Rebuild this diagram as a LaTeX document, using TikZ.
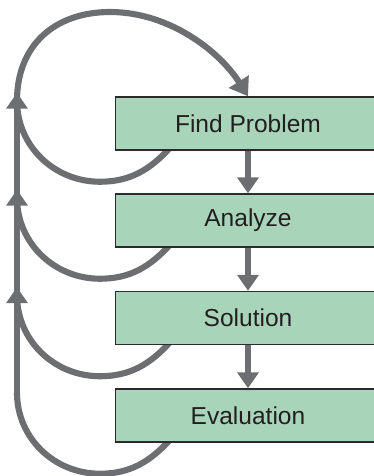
\documentclass[tikz,border=0pt]{standalone}
\usepackage{fontspec}
\setmainfont{Liberation Sans}
\usetikzlibrary{arrows.meta,calc}
\pgfdeclarelayer{bg}
\pgfsetlayers{bg,main}
\definecolor{loopgray}{HTML}{6D6E71}
\definecolor{boxgreen}{HTML}{A8D5BA}
\definecolor{boxline}{HTML}{2B2B2B}
\definecolor{txt}{HTML}{231F20}
\begin{document}
\begin{tikzpicture}[x=0.75pt,y=-0.75pt,
  stepbox/.style={draw=boxline, line width=1.1pt, fill=boxgreen,
    minimum width=198.75pt, minimum height=39.75pt, inner sep=0pt,
    text=txt, font=\fontsize{18.4}{21}\selectfont},
  headstyle/.style={-{Triangle[width=15.75pt,length=12pt]}},
  loopline/.style={draw=loopgray, line width=4.6pt},
  downline/.style={draw=loopgray, line width=5pt, headstyle}]
\useasboundingbox (0,0) rectangle (374,476);
\clip (0,0) rectangle (374,476);
\node[stepbox] (b1) at (248,123.5) {Find Problem};
\node[stepbox] (b2) at (248,220.5) {Analyze};
\node[stepbox] (b3) at (248,318) {Solution};
\node[stepbox] (b4) at (248,415.5) {Evaluation};
\draw[downline] (b1.south) -- (b2.north);
\draw[downline] (b2.south) -- (b3.north);
\draw[downline] (b3.south) -- (b4.north);
\begin{pgfonlayer}{bg}
\foreach \i in {1,...,4}{
  \coordinate (S\i) at ($(b\i.south)+(-78,-3)$);
  \coordinate (B\i) at ($(b\i.south)+(-148,31)$);
  \coordinate (L\i) at ($(b\i.south)+(-231,-50)$);
  \draw[loopline] (S\i) .. controls +(-20,22) and +(30,0) .. (B\i)
    .. controls +(-46,0) and +(0,45) .. (L\i);
}
\coordinate (A1) at ($(L1)+(0,-8)$);
\coordinate (A2) at ($(L2)+(0,-8)$);
\coordinate (A3) at ($(L3)+(0,-8)$);
\draw[loopline, headstyle] (L4) -- (A3);
\draw[loopline, headstyle] (L3) -- (A2);
\draw[loopline, headstyle] (L2) -- (A1);
\draw[loopline, -{Triangle[width=17pt,length=13pt]}] (L1) .. controls (17,45) and (55,12) .. (110,12)
  .. controls (170,12) and (220,52) .. (b1.north);
\end{pgfonlayer}
\end{tikzpicture}
\end{document}
